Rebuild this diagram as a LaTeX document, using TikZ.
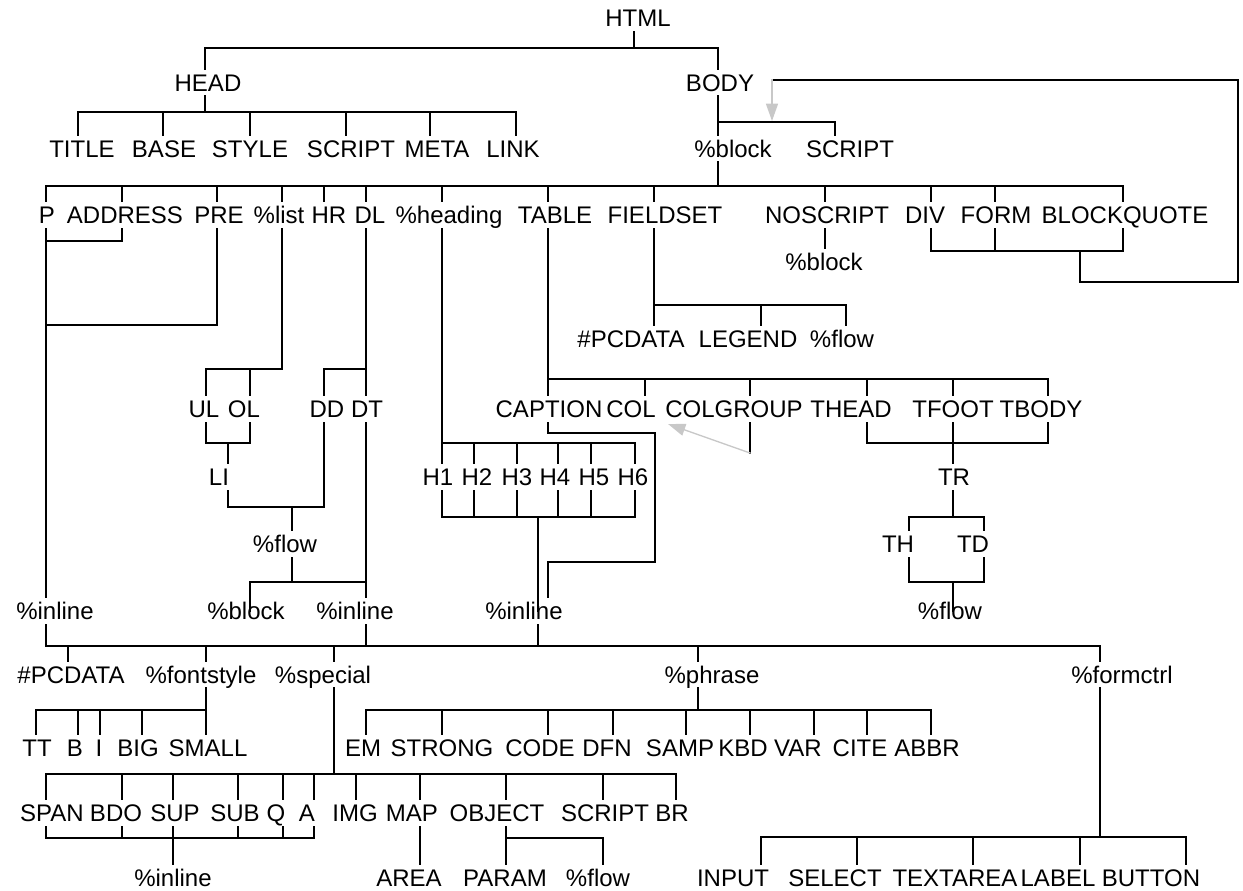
\documentclass[tikz,border=0pt]{standalone}
\usepackage{fontspec}
\setmainfont{Liberation Sans}
\usetikzlibrary{arrows.meta}
\definecolor{lgray}{RGB}{200,200,200}
\begin{document}
\begin{tikzpicture}[x=0.75pt,y=-0.75pt,line width=1pt,line cap=rect,
  t/.style={inner sep=0pt,outer ysep=3.75pt,text height=12.9pt,text depth=0pt,font=\fontsize{18pt}{20pt}\selectfont},
  garrow/.style={draw=lgray,-{Triangle[width=9pt,length=13pt]}}]
\useasboundingbox (0,0) rectangle (1243,890);
% ---------- nodes ----------
\node[t] (HTML) at (638,18) {HTML};
\node[t] (HEAD) at (208,82.5) {HEAD};
\node[t] (BODY) at (720,82.5) {BODY};

\node[t] (TITLE) at (82,148.5) {TITLE};
\node[t] (BASE) at (164,148.5) {BASE};
\node[t] (STYLE) at (250,148.5) {STYLE};
\node[t] (SCRIPTh) at (351,148.5) {SCRIPT};
\node[t] (META) at (437,148.5) {META};
\node[t] (LINK) at (513,148.5) {LINK};
\node[t] (blkA) at (733,148.5) {\%block};
\node[t] (SCRIPTb) at (850,148.5) {SCRIPT};

\node[t] (P) at (47,215) {P};
\node[t] (ADDRESS) at (125,215) {ADDRESS};
\node[t] (PRE) at (219,215) {PRE};
\node[t] (list) at (279,215) {\%list};
\node[t] (HR) at (329,215) {HR};
\node[t] (DL) at (370,215) {DL};
\node[t] (heading) at (449,215) {\%heading};
\node[t] (TABLE) at (555,215) {TABLE};
\node[t] (FIELDSET) at (665,215) {FIELDSET};
\node[t] (NOSCRIPT) at (827,215) {NOSCRIPT};
\node[t] (DIV) at (925,215) {DIV};
\node[t] (FORM) at (996,215) {FORM};
\node[t] (BLOCKQUOTE) at (1125,215) {BLOCKQUOTE};

\node[t] (blkN) at (824,262) {\%block};

\node[t] (pcdF) at (631,339) {\#PCDATA};
\node[t] (LEGEND) at (748,339) {LEGEND};
\node[t] (flowF) at (842,339) {\%flow};

\node[t] (UL) at (204,409) {UL};
\node[t] (OL) at (244,409) {OL};
\node[t] (DD) at (327,409) {DD};
\node[t] (DT) at (367,409) {DT};
\node[t] (CAPTION) at (549,409) {CAPTION};
\node[t] (COL) at (631,409) {COL};
\node[t] (COLGROUP) at (734,409) {COLGROUP};
\node[t] (THEAD) at (851,409) {THEAD};
\node[t] (TFOOT) at (953,409) {TFOOT};
\node[t] (TBODY) at (1041,409) {TBODY};

\node[t] (LI) at (219,477) {LI};
\node[t] (H1) at (438,477) {H1};
\node[t] (H2) at (477,477) {H2};
\node[t] (H3) at (517,477) {H3};
\node[t] (H4) at (555,477) {H4};
\node[t] (H5) at (594,477) {H5};
\node[t] (H6) at (633,477) {H6};
\node[t] (TR) at (954,477) {TR};

\node[t] (flowL) at (285,544) {\%flow};
\node[t] (TH) at (898,544) {TH};
\node[t] (TD) at (973,544) {TD};

\node[t] (inlL) at (55,611) {\%inline};
\node[t] (blkL) at (246,611) {\%block};
\node[t] (inlM) at (355,611) {\%inline};
\node[t] (inlR) at (524,611) {\%inline};
\node[t] (flowT) at (950,611) {\%flow};

\node[t] (pcd) at (71,674.5) {\#PCDATA};
\node[t] (fontstyle) at (201,674.5) {\%fontstyle};
\node[t] (special) at (323,674.5) {\%special};
\node[t] (phrase) at (712,674.5) {\%phrase};
\node[t] (formctrl) at (1122,674.5) {\%formctrl};

\node[t] (TT) at (37,748) {TT};
\node[t] (B) at (75,748) {B};
\node[t] (I) at (99,748) {I};
\node[t] (BIG) at (138,748) {BIG};
\node[t] (SMALL) at (208,748) {SMALL};
\node[t] (EM) at (363,748) {EM};
\node[t] (STRONG) at (442,748) {STRONG};
\node[t] (CODE) at (540,748) {CODE};
\node[t] (DFN) at (607,748) {DFN};
\node[t] (SAMP) at (680,748) {SAMP};
\node[t] (KBD) at (743,748) {KBD};
\node[t] (VAR) at (798,748) {VAR};
\node[t] (CITE) at (860,748) {CITE};
\node[t] (ABBR) at (927,748) {ABBR};

\node[t] (SPAN) at (52,813) {SPAN};
\node[t] (BDO) at (116,813) {BDO};
\node[t] (SUP) at (175,813) {SUP};
\node[t] (SUB) at (235,813) {SUB};
\node[t] (Q) at (276,813) {Q};
\node[t] (A) at (307,813) {A};
\node[t] (IMG) at (355,813) {IMG};
\node[t] (MAP) at (412,813) {MAP};
\node[t] (OBJECT) at (497,813) {OBJECT};
\node[t] (SCRIPTs) at (605,813) {SCRIPT};
\node[t] (BR) at (672,813) {BR};

\node[t] (inlS) at (173,877.5) {\%inline};
\node[t] (AREA) at (409,877.5) {AREA};
\node[t] (PARAM) at (505,877.5) {PARAM};
\node[t] (flowO) at (598,877.5) {\%flow};
\node[t] (INPUT) at (733,877.5) {INPUT};
\node[t] (SELECT) at (835,877.5) {SELECT};
\node[t] (TEXTAREA) at (955,877.5) {TEXTAREA};
\node[t] (LABEL) at (1058,877.5) {LABEL};
\node[t] (BUTTON) at (1151,877.5) {BUTTON};

% ---------- connectors ----------
% HTML
\draw (HTML.south -| 634,0) -- (634,48);
\draw (HEAD.north -| 205,0) |- (718,48) -- (BODY.north -| 718,0);
% HEAD
\draw (HEAD.south -| 205,0) -- (205,112);
\draw (78,112) -- (516,112);
\foreach \n/\x in {TITLE/78,BASE/163,STYLE/250,SCRIPTh/346,META/430,LINK/516}
  \draw (\n.north -| \x,0) -- (\x,112);
% BODY
\draw (BODY.south -| 718,0) -- (blkA.north -| 718,0);
\draw (718,122) -- (835,122) -- (SCRIPTb.north -| 835,0);
% %block
\draw (blkA.south -| 718,0) -- (718,186);
\draw (46,186) -- (1123,186);
\foreach \n/\x in {P/46,ADDRESS/122,PRE/217,list/282,HR/324,DL/366,heading/442,TABLE/548,FIELDSET/654,NOSCRIPT/825,DIV/931,FORM/995,BLOCKQUOTE/1123}
  \draw (\n.north -| \x,0) -- (\x,186);
% P, ADDRESS, PRE
\draw (P.south -| 46,0) -- (inlL.north -| 46,0);
\draw (ADDRESS.south -| 122,0) |- (46,241);
\draw (PRE.south -| 217,0) |- (46,325);
% %list
\draw (list.south -| 282,0) |- (206,369) -- (UL.north -| 206,0);
\draw (250,369) -- (OL.north -| 250,0);
\draw (UL.south -| 206,0) |- (250,443) -- (OL.south -| 250,0);
\draw (228,443) -- (LI.north -| 228,0);
\draw (LI.south -| 228,0) |- (324,507) -- (DD.south -| 324,0);
\draw (292,507) -- (flowL.north -| 292,0);
% DL
\draw (DL.south -| 366,0) -- (DT.north -| 366,0);
\draw (366,369) -- (324,369) -- (DD.north -| 324,0);
\draw (DT.south -| 366,0) -- (inlM.north -| 366,0);
\draw (flowL.south -| 292,0) -- (292,582);
\draw (blkL.center -| 250,0) |- (366,582);
% %heading
\draw (heading.south -| 442,0) -- (442,443) -- (635,443);
\foreach \n/\x in {H1/442,H2/474,H3/517,H4/558,H5/591,H6/635} {
  \draw (\n.north -| \x,0) -- (\x,443);
  \draw (\n.south -| \x,0) -- (\x,517);
}
\draw (442,517) -- (635,517);
\draw (538,517) -- (inlR.center -| 538,0);
% CAPTION
\draw (CAPTION.south -| 548,0) -- (548,433) -- (655,433) -- (655,562) -- (548,562) -- (inlR.north -| 548,0);
% TABLE
\draw (TABLE.south -| 548,0) -- (548,379) -- (1048,379);
\foreach \n/\x in {CAPTION/548,COL/645,COLGROUP/750,THEAD/867,TFOOT/953,TBODY/1048}
  \draw (\n.north -| \x,0) -- (\x,379);
\draw (COLGROUP.south -| 750,0) -- (750,453);
\draw[garrow] (750,453) -- (668,424);
\draw (THEAD.south -| 867,0) |- (1048,443) -- (TBODY.south -| 1048,0);
\draw (TFOOT.south -| 953,0) -- (TR.north -| 953,0);
\draw (TR.south -| 953,0) -- (953,517);
\draw (TH.north -| 909,0) |- (984,517) -- (TD.north -| 984,0);
\draw (TH.south -| 909,0) |- (984,582) -- (TD.south -| 984,0);
\draw (953,582) -- (flowT.center -| 953,0);
% FIELDSET
\draw (FIELDSET.south -| 654,0) -- (pcdF.north -| 654,0);
\draw (654,305) -- (846,305) -- (flowF.north -| 846,0);
\draw (761,305) -- (LEGEND.north -| 761,0);
% NOSCRIPT
\draw (NOSCRIPT.south -| 825,0) -- (blkN.north -| 825,0);
% DIV FORM BLOCKQUOTE loop
\draw (DIV.south -| 931,0) |- (1123,251) -- (BLOCKQUOTE.south -| 1123,0);
\draw (FORM.south -| 995,0) -- (995,251);
\coordinate (loopS) at (1080,251);
\coordinate (loopE) at (772,80);
\coordinate (bodyIn) at (772,121);
\draw (loopS) -- (1080,282) -- (1238,282) -- (1238,80) -- (loopE);
\draw[garrow] (loopE) -- (bodyIn);
% inline bus
\draw (inlL.south -| 46,0) -- (46,646) -- (1100,646);
\draw (inlM.south -| 366,0) -- (366,646);
\draw (inlR.south -| 538,0) -- (538,646);
\foreach \n/\x in {pcd/68,fontstyle/206,special/334,phrase/698,formctrl/1100}
  \draw (\n.north -| \x,0) -- (\x,646);
% %fontstyle
\draw (fontstyle.south -| 206,0) -- (206,710) -- (36,710);
\foreach \n/\x in {TT/36,B/78,I/100,BIG/142,SMALL/206}
  \draw (\n.north -| \x,0) -- (\x,710);
% %special
\draw (special.south -| 334,0) -- (334,774);
\draw (46,774) -- (676,774);
\foreach \n/\x in {SPAN/46,BDO/122,SUP/173,SUB/238,Q/283,A/314,IMG/356,MAP/420,OBJECT/506,SCRIPTs/603,BR/676}
  \draw (\n.north -| \x,0) -- (\x,774);
\draw (46,838) -- (314,838);
\foreach \n/\x in {SPAN/46,BDO/122,SUB/238,Q/283,A/314}
  \draw (\n.south -| \x,0) -- (\x,838);
\draw (SUP.south -| 173,0) -- (inlS.north -| 173,0);
\draw (MAP.south -| 420,0) -- (AREA.north -| 420,0);
\draw (OBJECT.south -| 506,0) -- (PARAM.north -| 506,0);
\draw (506,838) -- (603,838) -- (flowO.north -| 603,0);
% %phrase
\draw (phrase.south -| 698,0) -- (698,710);
\draw (366,710) -- (931,710);
\foreach \n/\x in {EM/366,STRONG/442,CODE/548,DFN/613,SAMP/686,KBD/750,VAR/814,CITE/867,ABBR/931}
  \draw (\n.north -| \x,0) -- (\x,710);
% %formctrl
\draw (formctrl.south -| 1100,0) -- (1100,837);
\draw (761,837) -- (1186,837);
\foreach \n/\x in {INPUT/761,SELECT/857,TEXTAREA/973,LABEL/1080,BUTTON/1186}
  \draw (\n.north -| \x,0) -- (\x,837);
\end{tikzpicture}
\end{document}
